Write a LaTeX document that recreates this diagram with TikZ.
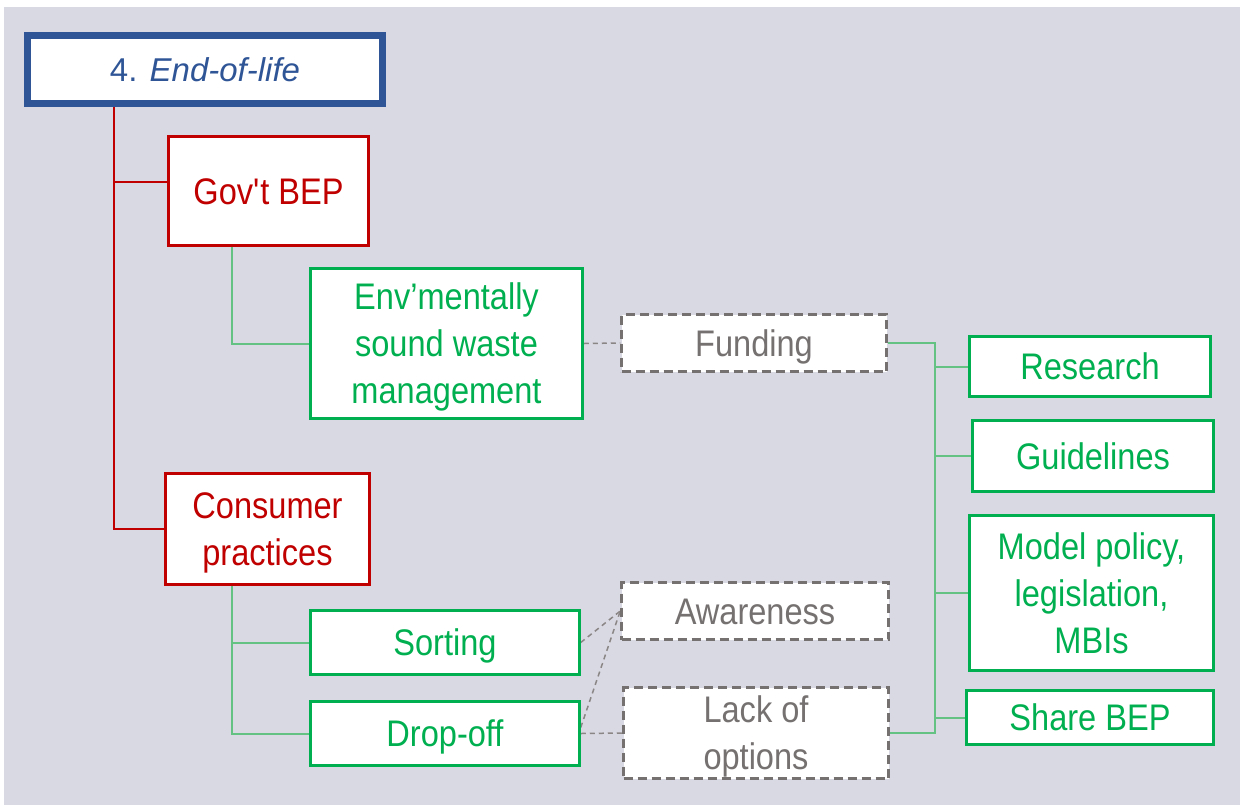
\documentclass[tikz,border=0pt]{standalone}
\usepackage{fontspec}
\setmainfont{Liberation Sans}[FakeStretch=0.88]
\newfontfamily\titlefont{Liberation Sans}
\usetikzlibrary{backgrounds}
\definecolor{bgc}{RGB}{217,217,227}
\definecolor{tblue}{RGB}{47,85,151}
\definecolor{rred}{RGB}{192,0,0}
\definecolor{ggreen}{RGB}{0,176,80}
\definecolor{glight}{RGB}{100,195,130}
\definecolor{ggrey}{RGB}{118,113,113}
\newcommand\lst{\rule[-8pt]{0pt}{42.5pt}}
\newcommand\tst{\rule[-7pt]{0pt}{37.6pt}}
\begin{document}
\begin{tikzpicture}[x=1pt,y=-1pt,
  basebox/.style={draw, fill=white, inner sep=0pt, align=center, font=\fontsize{37}{47}\selectfont},
  titlebox/.style={basebox, draw=tblue, line width=7pt, text=tblue, font=\titlefont\fontsize{33}{40}\selectfont},
  redbox/.style={basebox, draw=rred, line width=2.5pt, text=rred},
  greenbox/.style={basebox, draw=ggreen, line width=2.5pt, text=ggreen},
  greybox/.style={basebox, draw=ggrey, line width=2.5pt, dash pattern=on 9pt off 5pt, text=ggrey},
  redline/.style={draw=rred, line width=2.5pt},
  gline/.style={draw=glight, line width=2pt},
  dline/.style={draw=ggrey!85, line width=1.5pt, dash pattern=on 5pt off 4pt}]
\useasboundingbox (0,0) rectangle (1242,807);

\node[titlebox, minimum width=355pt, minimum height=68pt] (title) at (205,69.5) {\tst 4. \textit{End-of-life}};
\node[redbox, minimum width=200pt, minimum height=109pt] (gov) at (268.5,191) {\lst Gov\textquotesingle t BEP};
\node[redbox, minimum width=204pt, minimum height=111pt] (cons) at (267.5,529) {\lst Consumer\\\lst practices};
\node[greenbox, minimum width=272pt, minimum height=150pt] (env) at (446.5,343.5) {\lst Env’mentally\\\lst sound waste\\\lst management};
\node[greenbox, minimum width=269pt, minimum height=64pt] (sort) at (445,642.5) {\lst Sorting};
\node[greenbox, minimum width=269pt, minimum height=64pt] (drop) at (445,733.5) {\lst Drop-off};
\node[greybox, minimum width=265pt, minimum height=57pt] (fund) at (754,343) {\lst Funding};
\node[greybox, minimum width=267pt, minimum height=57pt] (aware) at (755,611) {\lst Awareness};
\node[greybox, minimum width=265pt, minimum height=91pt] (lack) at (756,733) {\lst Lack of\\\lst options};
\node[greenbox, minimum width=241pt, minimum height=60pt] (res) at (1090,366.5) {\lst Research};
\node[greenbox, minimum width=241pt, minimum height=71pt] (guide) at (1093,456) {\lst Guidelines};
\node[greenbox, minimum width=244pt, minimum height=155pt] (model) at (1091.5,593) {\lst Model policy,\\\lst legislation,\\\lst MBIs};
\node[greenbox, minimum width=247pt, minimum height=54pt] (share) at (1090,717.5) {\lst Share BEP};

\coordinate (rx) at (114,0);
\coordinate (gx) at (232,0);
\coordinate (vx) at (935,0);

\begin{scope}[on background layer]
  \fill[white] (0,0) rectangle (1242,807);
  \fill[bgc] (4,7) rectangle (1240,805);
  \draw[redline] (title.south -| rx) |- ([yshift=9pt]gov.west);
  \draw[redline] (title.south -| rx) |- (cons.west);
  \draw[gline] (gov.south -| gx) |- (env.west);
  \draw[gline] (cons.south -| gx) |- (sort.west);
  \draw[gline] (cons.south -| gx) |- (drop.west);
  \draw[dline] (env.east) -- (fund.west);
  \draw[dline] (sort.east) -- (aware.west);
  \draw[dline] ([yshift=6pt]drop.east) -- (aware.west);
  \draw[dline] (drop.east) -- (lack.west);
  \draw[gline] (fund.east) -| (vx |- lack.east) -- (lack.east);
  \draw[gline] (vx |- res.west) -- (res.west);
  \draw[gline] (vx |- guide.west) -- (guide.west);
  \draw[gline] (vx |- model.west) -- (model.west);
  \draw[gline] (vx |- share.west) -- (share.west);
\end{scope}
\end{tikzpicture}
\end{document}
